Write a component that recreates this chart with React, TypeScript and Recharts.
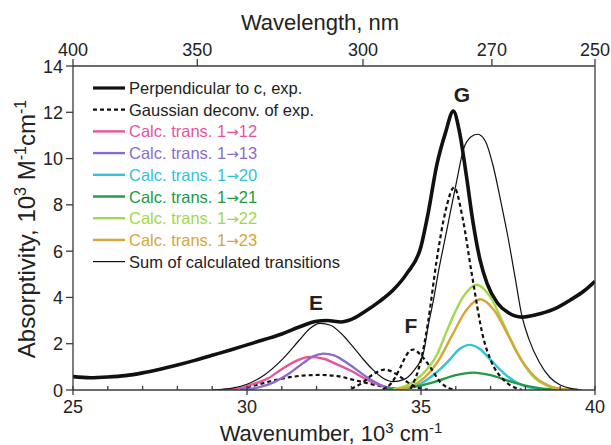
import React from "react";
import { LineChart, Line, XAxis, YAxis } from "recharts";

type Pair = [number, number];

// experimental spectrum, perpendicular to c (x in 10^3 cm^-1, y in 10^3 M^-1 cm^-1)
const perpendicular: Pair[] = [
  [25.0, 0.58], [25.5, 0.53], [26.0, 0.56], [26.5, 0.62], [27.0, 0.74],
  [27.5, 0.9], [28.0, 1.08], [28.5, 1.28], [29.0, 1.5], [29.5, 1.72],
  [30.0, 1.95], [30.5, 2.18], [31.0, 2.42], [31.5, 2.72], [32.0, 2.97],
  [32.3, 3.0], [32.7, 2.94], [33.0, 3.05], [33.4, 3.4], [33.8, 3.82],
  [34.2, 4.32], [34.6, 5.05], [35.0, 6.2], [35.2, 7.6], [35.45, 9.7],
  [35.7, 11.1], [35.93, 12.05], [36.1, 11.2], [36.3, 9.3], [36.5, 7.2],
  [36.7, 5.6], [36.9, 4.6], [37.2, 3.75], [37.5, 3.35], [37.9, 3.15],
  [38.3, 3.25], [38.8, 3.48], [39.3, 3.9], [39.7, 4.3], [40.0, 4.7],
];

// gaussian deconvolution of the experiment, one band per array
const deconvE: Pair[] = [
  [29.6, 0.02], [30.1, 0.15], [30.6, 0.35], [31.1, 0.52], [31.6, 0.62],
  [32.1, 0.65], [32.6, 0.6], [33.0, 0.46], [33.5, 0.28], [34.0, 0.12], [34.5, 0.03],
];
const deconvEF: Pair[] = [
  [33.0, 0.05], [33.3, 0.3], [33.6, 0.65], [33.95, 0.88], [34.3, 0.68],
  [34.6, 0.35], [34.9, 0.1], [35.2, 0.02],
];
const deconvF: Pair[] = [
  [33.9, 0.02], [34.15, 0.3], [34.4, 0.95], [34.6, 1.55], [34.78, 1.75],
  [35.0, 1.5], [35.26, 1.0], [35.55, 0.35], [35.8, 0.08], [36.0, 0.01],
];
const deconvG: Pair[] = [
  [34.7, 0.05], [35.0, 1.3], [35.2, 2.9], [35.45, 5.6], [35.7, 7.7],
  [35.95, 8.75], [36.2, 7.4], [36.45, 5.1], [36.8, 2.2], [37.0, 1.3],
  [37.4, 0.4], [37.7, 0.1], [37.9, 0.01],
];

// calculated transitions
const trans12: Pair[] = [
  [29.3, 0.01], [29.8, 0.08], [30.1, 0.22], [30.6, 0.5], [31.0, 0.9],
  [31.4, 1.25], [31.8, 1.43], [32.2, 1.35], [32.6, 1.1], [33.0, 0.82],
  [33.5, 0.4], [34.0, 0.12], [34.5, 0.02],
];
const trans13: Pair[] = [
  [29.8, 0.02], [30.3, 0.1], [30.8, 0.35], [31.2, 0.7], [31.6, 1.15],
  [31.9, 1.45], [32.2, 1.57], [32.5, 1.5], [32.96, 1.08], [33.5, 0.5],
  [34.0, 0.12], [34.4, 0.02],
];
const trans20: Pair[] = [
  [34.2, 0.01], [34.6, 0.08], [35.0, 0.28], [35.4, 0.7], [35.8, 1.27],
  [36.1, 1.76], [36.4, 1.95], [36.7, 1.76], [37.0, 1.3], [37.4, 0.7],
  [37.8, 0.28], [38.2, 0.08], [38.6, 0.01],
];
const trans21: Pair[] = [
  [34.0, 0.02], [34.5, 0.06], [35.0, 0.19], [35.5, 0.4], [36.0, 0.64],
  [36.5, 0.75], [37.0, 0.64], [37.5, 0.4], [38.0, 0.19], [38.5, 0.06], [39.0, 0.02],
];
const trans22: Pair[] = [
  [34.2, 0.03], [34.6, 0.2], [35.0, 0.62], [35.45, 1.5], [35.8, 2.76],
  [36.2, 4.0], [36.6, 4.55], [37.0, 4.0], [37.4, 2.76], [37.75, 1.63],
  [38.2, 0.62], [38.6, 0.2], [39.0, 0.05], [39.4, 0.01],
];
const trans23: Pair[] = [
  [34.3, 0.03], [34.7, 0.15], [35.1, 0.53], [35.5, 1.27], [35.9, 2.38],
  [36.3, 3.45], [36.7, 3.92], [37.1, 3.45], [37.5, 2.38], [37.9, 1.27],
  [38.3, 0.53], [38.7, 0.17], [39.1, 0.04], [39.5, 0.01],
];
const calcSum: Pair[] = [
  [29.0, 0.01], [29.5, 0.06], [30.0, 0.25], [30.5, 0.65], [31.0, 1.3],
  [31.5, 2.15], [31.8, 2.65], [32.1, 2.88], [32.4, 2.8], [32.7, 2.45],
  [33.0, 1.95], [33.3, 1.4], [33.6, 0.9], [33.9, 0.52], [34.2, 0.36],
  [34.5, 0.45], [34.8, 0.85], [35.07, 1.6], [35.21, 2.8], [35.36, 3.9],
  [35.5, 5.1], [35.74, 6.9], [36.03, 9.07], [36.22, 10.4], [36.45, 10.95],
  [36.63, 11.05], [36.85, 10.75], [37.07, 9.7], [37.3, 8.1], [37.5, 6.6],
  [37.7, 4.9], [37.9, 3.2], [38.1, 2.2], [38.4, 1.2], [38.7, 0.55],
  [39.0, 0.22], [39.3, 0.07], [39.6, 0.01],
];

const wavenumberTicks = [25, 26, 27, 28, 29, 30, 31, 32, 33, 34, 35, 36, 37, 38, 39, 40];
const wavelengthTicks = [400, 350, 300, 270, 250];
const absorptivityTicks = [0, 2, 4, 6, 8, 10, 12, 14];

const FONT = "'Liberation Sans', Arial, Helvetica, sans-serif";
const ARROW_FONT = "'DejaVu Sans', sans-serif";
const AXIS = "#3a3a3a";
const TEXT = "#222";

const toPoints = (arr: Pair[]) => arr.map(([x, y]) => ({ x, y }));

const series = [
  { name: "Perpendicular to c, exp.", data: perpendicular, color: "#111", width: 3.6, dash: undefined, to: "" },
  { name: "Gaussian deconv. of exp.", data: deconvE, color: "#111", width: 2.2, dash: "4 3", to: "" },
  { name: "Calc. trans. 1", data: trans12, color: "#e8549c", width: 2.4, dash: undefined, to: "12" },
  { name: "Calc. trans. 1", data: trans13, color: "#8a6cc9", width: 2.4, dash: undefined, to: "13" },
  { name: "Calc. trans. 1", data: trans20, color: "#33c3d6", width: 2.4, dash: undefined, to: "20" },
  { name: "Calc. trans. 1", data: trans21, color: "#229a45", width: 2.4, dash: undefined, to: "21" },
  { name: "Calc. trans. 1", data: trans22, color: "#a2d84a", width: 2.4, dash: undefined, to: "22" },
  { name: "Calc. trans. 1", data: trans23, color: "#d5a63a", width: 2.4, dash: undefined, to: "23" },
  { name: "Sum of calculated transitions", data: calcSum, color: "#111", width: 1.2, dash: undefined, to: "" },
];

function BottomTick(props: any) {
  const { x, y, payload } = props;
  const major = payload.value % 5 === 0;
  return (
    <g>
      <line x1={x} x2={x} y1={y - 4} y2={major ? y + 5 : y} stroke={AXIS} strokeWidth={1.3} />
      {major && (
        <text x={x} y={y + 23} textAnchor="middle" fontSize={18} fontFamily={FONT} fill={TEXT}>
          {payload.value}
        </text>
      )}
    </g>
  );
}

function TopTick(props: any) {
  const { x, y, payload } = props;
  return (
    <g>
      <line x1={x} x2={x} y1={y} y2={y - 7} stroke={AXIS} strokeWidth={1.3} />
      <text x={x} y={y - 10} textAnchor="middle" fontSize={18} fontFamily={FONT} fill={TEXT}>
        {Math.round(10000 / payload.value)}
      </text>
    </g>
  );
}

function LeftTick(props: any) {
  const { x, y, payload } = props;
  return (
    <g>
      <line x1={x - 7} x2={x} y1={y} y2={y} stroke={AXIS} strokeWidth={1.3} />
      <text x={x - 10} y={y + 6.5} textAnchor="end" fontSize={18} fontFamily={FONT} fill={TEXT}>
        {payload.value}
      </text>
    </g>
  );
}

function Overlay() {
  const legendTop = 88;
  const step = 21.7;
  return (
    <svg
      width={611}
      height={445}
      style={{ position: "absolute", left: 0, top: 0, pointerEvents: "none" }}
      fontFamily={FONT}
    >
      <text x={320} y={30} textAnchor="middle" fontSize={22} fill={TEXT}>
        Wavelength, nm
      </text>
      <text x={331} y={441} textAnchor="middle" fontSize={22} fill={TEXT}>
        Wavenumber, 10<tspan dy={-8} fontSize={15}>3</tspan>
        <tspan dy={8}> cm</tspan>
        <tspan dy={-8} fontSize={15}>-1</tspan>
      </text>
      <text transform="translate(35,229) rotate(-90)" textAnchor="middle" fontSize={24} fill={TEXT}>
        Absorptivity, 10<tspan dy={-9} fontSize={16}>3</tspan>
        <tspan dy={9}> M</tspan>
        <tspan dy={-9} fontSize={16}>-1</tspan>
        <tspan dy={9}>cm</tspan>
        <tspan dy={-9} fontSize={16}>-1</tspan>
      </text>

      <text x={316} y={310} textAnchor="middle" fontSize={21} fontWeight="bold" fill={TEXT}>E</text>
      <text x={411} y={333} textAnchor="middle" fontSize={21} fontWeight="bold" fill={TEXT}>F</text>
      <text x={462} y={102} textAnchor="middle" fontSize={21} fontWeight="bold" fill={TEXT}>G</text>

      {series.map((s, i) => {
        const cy = legendTop + i * step;
        const colored = s.to !== "";
        return (
          <g key={s.name + s.to}>
            <line
              x1={93}
              x2={125}
              y1={cy}
              y2={cy}
              stroke={s.color}
              strokeWidth={i === 0 ? 3.2 : s.width}
              strokeDasharray={s.dash}
            />
            <text x={129} y={cy + 6} fontSize={16.5} fill={colored ? s.color : TEXT}>
              {s.name}
              {colored && (
                <tspan fontFamily={ARROW_FONT} fontSize={15}>
                  {"\u2192"}
                </tspan>
              )}
              {colored && <tspan>{s.to}</tspan>}
            </text>
          </g>
        );
      })}
    </svg>
  );
}

export default function App() {
  const lines = [
    ...series.map((s) => ({ key: s.name + s.to, data: s.data, color: s.color, width: s.width, dash: s.dash })),
    { key: "deconvEF", data: deconvEF, color: "#111", width: 2.2, dash: "4 3" },
    { key: "deconvF", data: deconvF, color: "#111", width: 2.2, dash: "4 3" },
    { key: "deconvG", data: deconvG, color: "#111", width: 2.2, dash: "4 3" },
  ];
  return (
    <div style={{ position: "relative", width: 611, height: 445, background: "#fff" }}>
      <style>{"body{margin:0}"}</style>
      <LineChart width={611} height={445} margin={{ top: 0, right: 0, bottom: 0, left: 0 }}>
        <XAxis
          xAxisId="bottom"
          dataKey="x"
          type="number"
          domain={[25, 40]}
          ticks={wavenumberTicks}
          interval={0}
          height={55}
          tickSize={0}
          tickMargin={0}
          tick={<BottomTick />}
          axisLine={{ stroke: AXIS, strokeWidth: 1.3 }}
          allowDataOverflow
        />
        <XAxis
          xAxisId="top"
          orientation="top"
          dataKey="x"
          type="number"
          domain={[25, 40]}
          ticks={wavelengthTicks.map((w) => 10000 / w)}
          interval={0}
          height={66}
          tickSize={0}
          tickMargin={0}
          tick={<TopTick />}
          axisLine={{ stroke: AXIS, strokeWidth: 1.3 }}
          allowDataOverflow
        />
        <YAxis
          yAxisId="left"
          type="number"
          domain={[0, 14]}
          ticks={absorptivityTicks}
          interval={0}
          width={73}
          tickSize={0}
          tickMargin={0}
          tick={<LeftTick />}
          axisLine={{ stroke: AXIS, strokeWidth: 1.3 }}
          allowDataOverflow
        />
        <YAxis
          yAxisId="right"
          orientation="right"
          type="number"
          domain={[0, 14]}
          width={16}
          tick={false}
          tickLine={false}
          axisLine={{ stroke: AXIS, strokeWidth: 1.3 }}
        />
        {lines.map((l) => (
          <Line
            key={l.key}
            xAxisId="bottom"
            yAxisId="left"
            data={toPoints(l.data)}
            dataKey="y"
            type="monotone"
            stroke={l.color}
            strokeWidth={l.width}
            strokeDasharray={l.dash}
            dot={false}
            activeDot={false}
            isAnimationActive={false}
          />
        ))}
      </LineChart>
      <Overlay />
    </div>
  );
}
